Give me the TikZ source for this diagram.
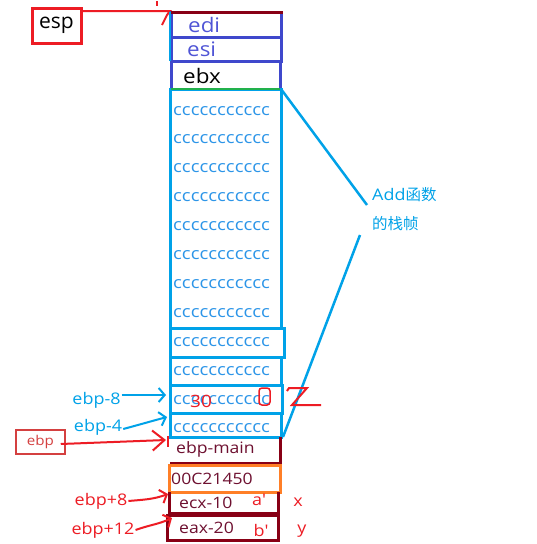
\documentclass[tikz,border=0pt]{standalone}
\usepackage{fontspec}
\setmainfont{Open Sans}[FakeStretch=1.12]
\newfontfamily\espfont{Open Sans}
\newfontfamily\cjk{Noto Sans CJK SC}
\usetikzlibrary{arrows.meta}
\newcommand\fsz[1]{\fontsize{#1}{#1}\selectfont}
\definecolor{pred}{HTML}{ED1C24}
\definecolor{maroon}{HTML}{880015}
\definecolor{orng}{HTML}{FF7F27}
\definecolor{pgreen}{HTML}{22B14C}
\definecolor{lblue}{HTML}{00A2E8}
\definecolor{indigo}{HTML}{3F48CC}
\definecolor{ctext}{HTML}{2C95E8}
\definecolor{editxt}{HTML}{5055D6}
\definecolor{ebpred}{HTML}{D44040}
\definecolor{mtxt}{HTML}{6E1030}
\begin{document}
\begin{tikzpicture}[x=1pt,y=-1pt,
  cellbox/.style={draw, line width=3pt, anchor=north west, inner sep=0pt, outer sep=0pt},
  plainbox/.style={anchor=north west, inner sep=0pt, outer sep=0pt},
  ctxt/.style={anchor=west, inner sep=0pt, text=ctext, font=\fsz{16.5}},
  mlbl/.style={anchor=west, inner sep=0pt, text=mtxt, font=\fsz{15.7}},
  rlbl/.style={inner sep=1pt, text=pred, font=\fsz{16}},
  blbl/.style={inner sep=1pt, text=lblue, font=\fsz{16}},
  redline/.style={draw=pred, line width=2pt},
  blueline/.style={draw=lblue, line width=2pt},
  barb/.style={-{Straight Barb[length=6pt,width=14pt]}},
  bigbarb/.style={-{Straight Barb[length=12pt,width=20pt]}},
  maroonline/.style={draw=maroon, line width=3pt}
]
\useasboundingbox[fill=white] (0,0) rectangle (536,544);

% esp
\node[draw=pred, line width=3pt, minimum width=49pt, minimum height=35pt, inner sep=0pt, font=\espfont\fsz{21}] (esp) at (56.5,25.5) {esp};
\coordinate (espend) at (170,11);
\draw[redline] (esp.east |- espend) -- (espend) -- ++(-3,4) -- ++(-5,10);
\coordinate (tickA) at (157,1);
\draw[draw=pred, line width=1.5pt] (tickA) -- ++(0,5);

% top registers
\node[cellbox, draw=indigo, minimum width=110pt, minimum height=25pt] (edi) at (171,12) {};
\node[cellbox, draw=indigo, minimum width=110pt, minimum height=24pt] (esi) at (171,37) {};
\node[cellbox, draw=indigo, minimum width=109pt, minimum height=28pt] (ebx) at (171,61) {};
\node[anchor=west, inner sep=0pt, text=editxt, font=\fsz{20}] (editx) at (188,24.5) {edi};
\node[anchor=west, inner sep=0pt, text=editxt, font=\fsz{20}] (esitx) at (187,49) {esi};
\node[anchor=west, inner sep=0pt, font=\fsz{20}] (ebxtx) at (183,76) {ebx};
\draw[draw=maroon, line width=3pt] (edi.north west) -- ([xshift=2pt]edi.north east);
\draw[draw=lblue, line width=2pt] ([xshift=-1pt]edi.north west) -- ([xshift=-1pt]esi.south west);

% cccc frame
\node[cellbox, draw=lblue, minimum width=111pt, minimum height=239pt] (big) at (170,89) {};
\draw[draw=pgreen, line width=2pt] (ebx.south west) -- (ebx.south east);
\node[cellbox, draw=lblue, minimum width=114pt, minimum height=29pt] (r1) at (170,328) {};
\node[cellbox, draw=lblue, minimum width=111pt, minimum height=28pt] (r2) at (170,357) {};
\node[cellbox, draw=lblue, minimum width=112pt, minimum height=28pt] (r3) at (170,385) {};
\node[cellbox, draw=lblue, minimum width=111pt, minimum height=24pt] (r4) at (170,413) {};
\foreach \yy [count=\i] in {111,139,168,197,226,255,284,313,342,371,400,428}
  \node[ctxt] (c\i) at (173,\yy) {ccccccccccc};

% frame label
\coordinate (fa) at (367,205);
\coordinate (fb) at (360,235);
\draw[blueline, line width=2.5pt] (big.north east) -- (fa);
\draw[blueline, line width=2.5pt] (fb) -- ([xshift=2pt]r4.south east);
\node[anchor=west, inner sep=0pt, text=lblue, font=\fsz{16}] (lab1) at (372,195) {Add{\cjk\fsz{15.5}函数}};
\node[anchor=west, inner sep=0pt, text=lblue, font=\fsz{15.5}\cjk] (lab2) at (372,224) {的栈帧};

% red annotations in ebp-8 row
\node[inner sep=0pt, text=pred, font=\fsz{17}] (thirty) at (201,401) {30};
\node[draw=pred, line width=1.5pt, rounded corners=3pt, minimum width=11pt, minimum height=17pt, inner sep=0pt] (zero) at (264.5,396.5) {};
\coordinate (zA) at (287,391);
\draw[redline] (zA) -- ++(2,-3) -- ++(18,0) -- ++(-15,17) -- ++(29,0);

% left labels
\node[blbl] (m8) at (96.5,400) {ebp-8};
\node[blbl] (m4) at (98,427) {ebp-4};
\coordinate (t8) at (166,395);
\coordinate (t4) at (167,417);
\draw[blueline, barb] ([yshift=5pt]m8.east) -- (t8);
\draw[blueline, barb] ([yshift=-2pt]m4.east) to[out=15,in=195] (t4);

\node[draw=ebpred, line width=1.5pt, minimum width=49pt, minimum height=24pt, inner sep=0pt, text=ebpred, font=\fsz{13.5}] (ebp) at (40.5,442) {ebp};
\coordinate (tebp) at (166,440);
\draw[redline, bigbarb] ([xshift=-5pt,yshift=-2pt]ebp.east) -- (tebp);
\coordinate (tickB) at (168,436);
\draw[draw=pred, line width=2pt] (tickB) -- ++(0,11);

% lower frame
\node[plainbox, minimum width=110pt, minimum height=26pt] (mainb) at (170,437) {};
\draw[maroonline] (mainb.north east) -- (mainb.south east) -- (mainb.south west);
\node[mlbl] (maintx) at (176,449) {ebp-main};
\node[cellbox, draw=orng, minimum width=111pt, minimum height=27pt] (ret) at (169,465) {};
\node[mlbl] (rettx) at (171,478.5) {00C21450};
\node[plainbox, minimum width=109pt, minimum height=21pt] (ecx) at (169,492) {};
\draw[maroonline] (ecx.north west) -- (ecx.south west) -- (ecx.south east) -- (ecx.north east);
\node[mlbl] (ecxtx) at (179,503) {ecx-10};
\node[cellbox, draw=maroon, minimum width=111pt, minimum height=25pt] (eax) at (167,515) {};
\node[mlbl] (eaxtx) at (179,527.5) {eax-20};

\node[rlbl] (ap) at (259,500) {a\textquotesingle};
\node[rlbl] (xx) at (298,502) {x};
\node[rlbl] (bp) at (261,530) {b\textquotesingle};
\node[rlbl] (yy) at (302,531) {y};

\node[rlbl] (p8) at (101,501) {ebp+8};
\node[rlbl] (p12) at (103,530) {ebp+12};
\coordinate (tp8) at (168,494);
\coordinate (tp12) at (172,518);
\draw[redline, barb] (p8.east) to[out=5,in=200] (tp8);
\draw[redline, barb] (p12.east) to[out=20,in=205] (tp12);
\end{tikzpicture}
\end{document}
